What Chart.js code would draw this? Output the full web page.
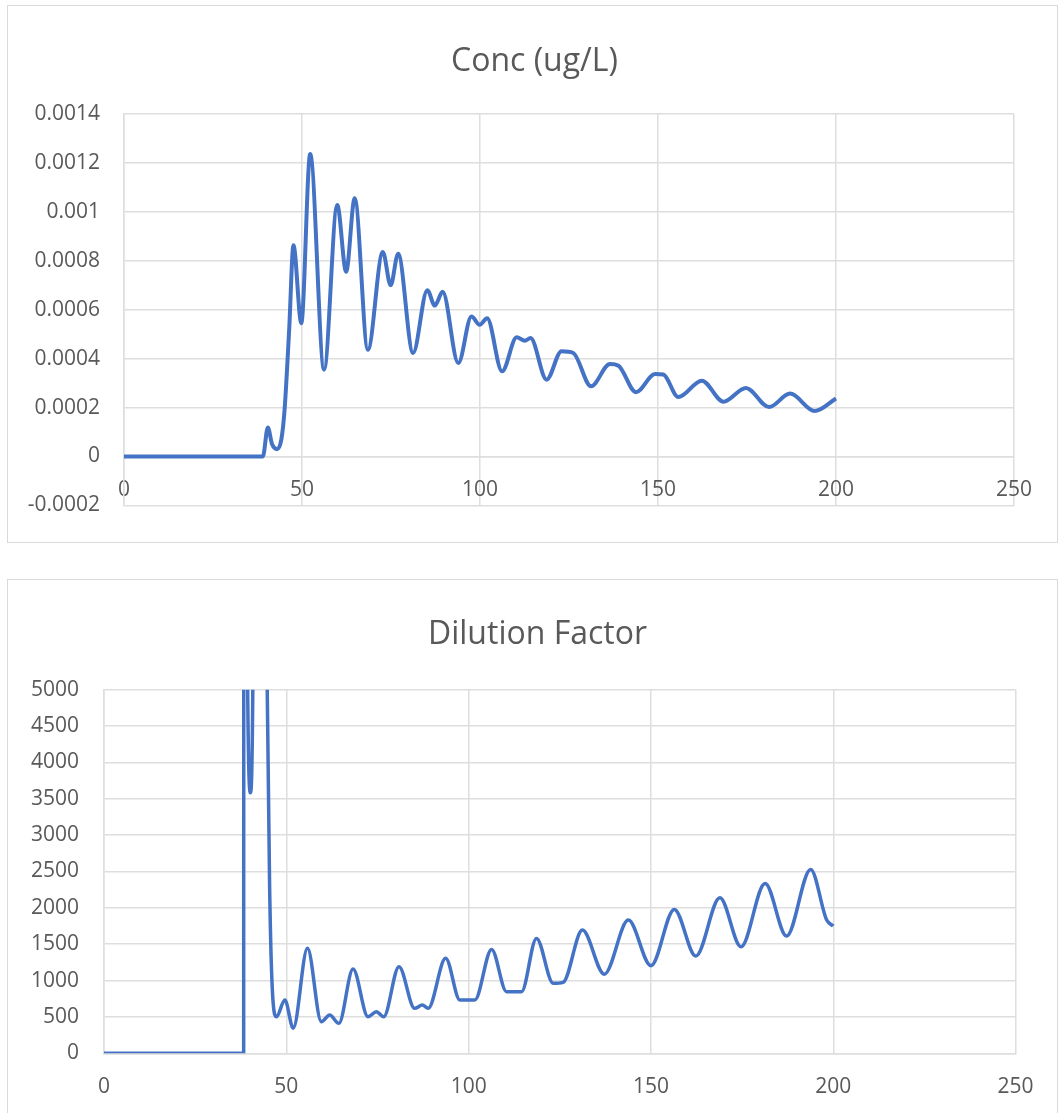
<!DOCTYPE html>
<html>
<head>
<meta charset="utf-8">
<title>Conc / Dilution Factor</title>
<script src="https://cdn.jsdelivr.net/npm/chart.js@4"></script>
<style>
  body { margin: 0; background: #fff; width: 1061px; height: 1113px; overflow: hidden; position: relative; }
  .box { position: absolute; border: 1px solid #d9d9d9; background: #fff; }
  #box1 { left: 7px; top: 5px; width: 1049px; height: 536px; }
  #box2 { left: 7px; top: 579px; width: 1049px; height: 540px; }
  canvas { display: block; }
</style>
</head>
<body>
<div class="box" id="box1"><canvas id="concChart" width="1049" height="536"></canvas></div>
<div class="box" id="box2"><canvas id="dilChart" width="1049" height="533"></canvas></div>
<script>
// time (x) and concentration
const concX = [0, 39.0, 40.4, 41.6, 43.0, 44.2, 45.1, 46.4, 47.6, 49.8, 52.3, 56.2, 59.9, 62.4, 64.8, 68.5,
  72.7, 74.9, 77.0, 81.2, 85.2, 87.3, 89.5, 93.9, 97.6, 99.9, 102.0, 106.2, 110.3, 112.6, 114.2,
  118.7, 122.9, 126.2, 131.2, 136.5, 138.9, 143.8, 149.2, 151.5, 155.7, 162.3, 168.4, 174.7,
  181.2, 187.1, 194.0, 200.0];
const concY = [0, 0, 0.000118, 0.00005, 0.00003, 0.00007, 0.00019, 0.00052, 0.000863, 0.000545, 0.001236,
  0.000355, 0.001028, 0.000755, 0.001056, 0.000436, 0.000836, 0.0007, 0.000829, 0.000423, 0.00068,
  0.000617, 0.000673, 0.000382, 0.000572, 0.000538, 0.000565, 0.000348, 0.000487, 0.000473, 0.000484,
  0.000314, 0.00043, 0.000423, 0.000287, 0.000378, 0.000371, 0.000263, 0.000337, 0.000335, 0.000243,
  0.00031, 0.000224, 0.00028, 0.000202, 0.000257, 0.000186, 0.000237];

// dilution factor, values over 5000 are cut off by the axis
const dilX = [0, 38.3, 38.4, 39.3, 40.2, 40.9, 42.5, 44.4, 45.5, 46.4, 47.3, 49.6, 51.9, 55.8, 59.6, 61.9,
  64.4, 68.3, 72.4, 74.7, 76.7, 80.9, 85.2, 87.3, 88.9, 93.7, 97.6, 101.7, 106.3, 110.4, 114.5,
  118.6, 123.2, 125.9, 131.2, 137.2, 143.8, 150.0, 156.4, 162.3, 168.9, 174.7, 181.3, 187.2,
  193.8, 198.2, 200.0];
const dilY = [0, 0, 20000, 5600, 3582, 5600, 25000, 6500, 2062, 687, 503, 733, 344, 1443, 434, 526,
  412, 1158, 503, 572, 503, 1190, 618, 664, 618, 1306, 733, 733, 1429, 847, 847,
  1580, 962, 975, 1695, 1088, 1832, 1204, 1979, 1337, 2139, 1465, 2336, 1612,
  2529, 1832, 1750];

const concXTicks = [0, 50, 100, 150, 200, 250];
const concYTicks = [-0.0002, 0, 0.0002, 0.0004, 0.0006, 0.0008, 0.001, 0.0012, 0.0014];
const dilXTicks = [0, 50, 100, 150, 200, 250];
const dilYTicks = [0, 500, 1000, 1500, 2000, 2500, 3000, 3500, 4000, 4500, 5000];

const textColor = "#595959";
const gridColor = "#dedede";
const fontName = "'Open Sans'";

function points(xs, ys) {
  return xs.map((x, i) => ({ x: x, y: ys[i] }));
}

function makeChart(id, opts) {
  const config = {
    type: "scatter",
    data: {
      datasets: [{
        data: points(opts.xs, opts.ys),
        showLine: true,
        borderColor: "#4472C4",
        borderWidth: opts.lineWidth,
        pointRadius: 0,
        fill: false,
        cubicInterpolationMode: "monotone"
      }]
    },
    options: {
      responsive: false,
      animation: false,
      layout: { padding: opts.padding },
      plugins: {
        legend: { display: false },
        tooltip: { enabled: false },
        title: {
          display: true,
          text: opts.title,
          color: textColor,
          font: { family: fontName, size: 32, weight: "normal" },
          padding: opts.titlePadding
        }
      },
      scales: {
        x: {
          type: "linear",
          position: { y: 0 },
          min: opts.xTicks[0],
          max: opts.xTicks[opts.xTicks.length - 1],
          afterBuildTicks: (s) => { s.ticks = opts.xTicks.map((v) => ({ value: v })); },
          grid: { color: gridColor, lineWidth: 1.5, drawTicks: false },
          border: { color: gridColor, width: 1.5 },
          ticks: { padding: 21, color: textColor, font: { family: fontName, size: 21 }, callback: (v) => String(v) }
        },
        y: {
          type: "linear",
          min: opts.yTicks[0],
          max: opts.yTicks[opts.yTicks.length - 1],
          afterBuildTicks: (s) => { s.ticks = opts.yTicks.map((v) => ({ value: v })); },
          afterFit: (s) => { s.width = opts.yWidth; },
          grid: { color: gridColor, lineWidth: 1.5, drawTicks: false },
          border: { color: gridColor, width: 1.5 },
          ticks: { padding: opts.yPad, color: textColor, font: { family: fontName, size: 21 }, callback: (v) => String(v) }
        },
        // empty right-hand spacer so the title stays centred on the whole box
        spacer: {
          type: "linear",
          position: "right",
          display: true,
          grid: { display: false },
          border: { display: false },
          ticks: { display: false },
          afterFit: (s) => { s.width = opts.rightGap; }
        }
      }
    }
  };
  return new Chart(document.getElementById(id), config);
}

makeChart("concChart", {
  xs: concX, ys: concY, xTicks: concXTicks, yTicks: concYTicks,
  title: "Conc (ug/L)", titlePadding: { top: 37, bottom: 32.6 },
  padding: { top: 0, left: 4, right: 0, bottom: 34 },
  yWidth: 112, yPad: 24, rightGap: 43, lineWidth: 4
});

makeChart("dilChart", {
  xs: dilX, ys: dilY, xTicks: dilXTicks, yTicks: dilYTicks,
  title: "Dilution Factor", titlePadding: { top: 36, bottom: 35.3 },
  padding: { top: 0, left: 10, right: 0, bottom: 59.7 },
  yWidth: 86, yPad: 25, rightGap: 41.4, lineWidth: 3.5
});
</script>
</body>
</html>
